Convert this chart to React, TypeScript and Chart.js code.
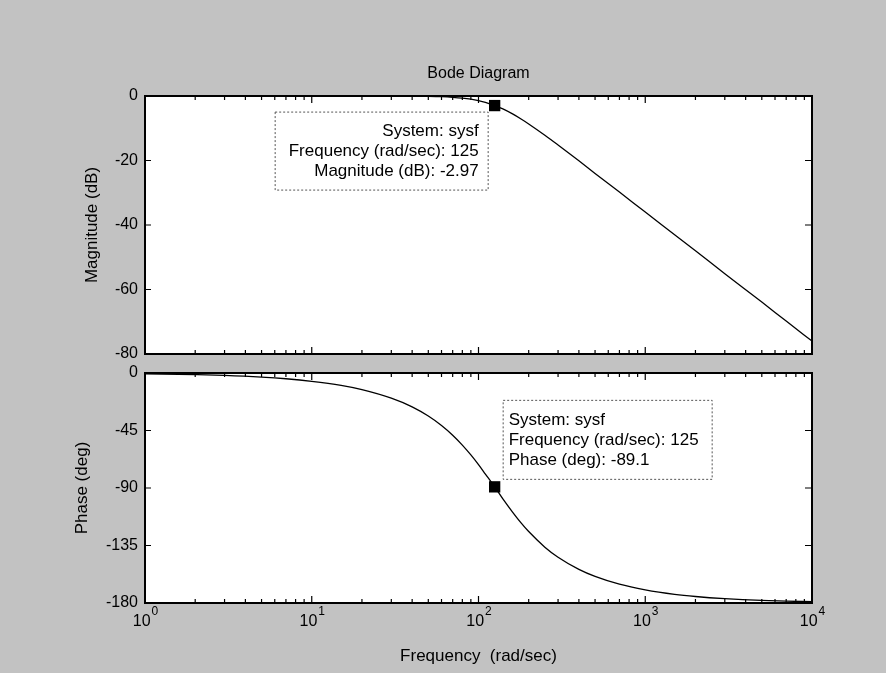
import React, { useEffect, useRef } from 'react';
import { Chart, registerables } from 'chart.js';
Chart.register(...registerables);

// ---- data ----
const frequencies = [1, 2, 3, 5, 7, 10, 15, 20, 30, 40, 50, 60, 70, 80, 90, 100, 110, 125, 140, 160, 180, 200, 250, 300, 400, 500, 700, 1000, 1500, 2000, 3000, 5000, 7000, 10000];
const magnitudeDb = [0, 0, 0, 0, 0, 0, 0, 0, -0.01, -0.04, -0.11, -0.22, -0.4, -0.65, -1.0, -1.45, -1.99, -2.97, -4.02, -5.56, -7.13, -8.66, -12.17, -15.2, -20.1, -24.0, -29.8, -36.0, -43.0, -48.0, -55.1, -63.9, -69.8, -76.0];
const phaseDeg = [-0.6, -1.3, -1.9, -3.2, -4.5, -6.5, -9.7, -13.0, -19.7, -26.5, -33.7, -41.1, -48.7, -56.4, -64.1, -71.7, -79.1, -89.1, -98.5, -108.8, -117.3, -124.1, -136.3, -144.2, -153.7, -159.2, -165.3, -169.7, -173.2, -174.9, -176.6, -178.0, -178.5, -179.0];

const markerFrequency = 125;
const markerMagnitude = -2.97;
const markerPhase = -89.1;

const magTicks = [0, -20, -40, -60, -80];
const phaseTicks = [0, -45, -90, -135, -180];
const freqDecades = [1, 10, 100, 1000, 10000];
const freqTickExponents = ['0', '1', '2', '3', '4'];

const chartTitle = 'Bode Diagram';
const xTitle = 'Frequency  (rad/sec)';
const magTitle = 'Magnitude (dB)';
const phaseTitle = 'Phase (deg)';
const magTipLines = ['System: sysf', 'Frequency (rad/sec): 125', 'Magnitude (dB): -2.97'];
const phaseTipLines = ['System: sysf', 'Frequency (rad/sec): 125', 'Phase (deg): -89.1'];

const FONT = '"Liberation Sans", Arial, sans-serif';

const bodePlugin = {
  id: 'bode',
  beforeDatasetsDraw(chart: any) {
    const { ctx, chartArea: a } = chart;
    ctx.save();
    ctx.fillStyle = '#ffffff';
    ctx.fillRect(a.left, a.top, a.right - a.left, a.bottom - a.top);
    ctx.restore();
  },
  afterDatasetsDraw(chart: any, _args: any, opts: any) {
    const { ctx, chartArea: a } = chart;
    const xs = chart.scales.x;
    const ys = chart.scales.y;
    ctx.save();
    // inward ticks
    ctx.strokeStyle = '#000';
    ctx.lineWidth = 1.2;
    ctx.beginPath();
    for (let d = 0; d < 4; d++) {
      for (let k = 1; k <= 9; k++) {
        const v = k * Math.pow(10, d);
        if (v <= 1) continue;
        const px = xs.getPixelForValue(v);
        const len = k === 1 ? 7 : 4;
        ctx.moveTo(px, a.bottom);
        ctx.lineTo(px, a.bottom - len);
        ctx.moveTo(px, a.top);
        ctx.lineTo(px, a.top + len);
      }
    }
    (opts.yTicks as number[]).forEach((v, i, arr) => {
      if (i === 0 || i === arr.length - 1) return;
      const py = ys.getPixelForValue(v);
      ctx.moveTo(a.left, py);
      ctx.lineTo(a.left + 6, py);
      ctx.moveTo(a.right, py);
      ctx.lineTo(a.right - 7, py);
    });
    ctx.stroke();
    // frame
    ctx.lineWidth = 2;
    ctx.strokeRect(a.left, a.top, a.right - a.left, a.bottom - a.top);

    // title
    if (opts.title) {
      ctx.fillStyle = '#000';
      ctx.font = `16px ${FONT}`;
      ctx.textAlign = 'center';
      ctx.textBaseline = 'middle';
      ctx.fillText(opts.title, (a.left + a.right) / 2, opts.titleY);
    }

    // x tick labels with exponents
    if (opts.xLabels) {
      ctx.fillStyle = '#000';
      ctx.textBaseline = 'alphabetic';
      ctx.textAlign = 'left';
      freqDecades.forEach((v, i) => {
        const px = xs.getPixelForValue(v);
        ctx.font = `16px ${FONT}`;
        const w1 = ctx.measureText('10').width;
        ctx.font = `12px ${FONT}`;
        const w2 = ctx.measureText(freqTickExponents[i]).width;
        const start = px - (w1 + w2) / 2;
        ctx.font = `16px ${FONT}`;
        ctx.fillText('10', start, 626);
        ctx.font = `12px ${FONT}`;
        ctx.fillText(freqTickExponents[i], start + w1 + 1, 615);
      });
    }

    // data tip
    const tip = opts.tip;
    if (tip) {
      const mx = xs.getPixelForValue(tip.x);
      const my = ys.getPixelForValue(tip.y);
      const left = mx + tip.dx;
      const top = my + tip.dy;
      ctx.fillStyle = '#fff';
      ctx.fillRect(left, top, tip.w, tip.h);
      ctx.strokeStyle = '#555';
      ctx.lineWidth = 1;
      ctx.setLineDash([2, 2]);
      ctx.strokeRect(left + 0.5, top + 0.5, tip.w, tip.h);
      ctx.setLineDash([]);
      ctx.fillStyle = '#000';
      ctx.font = `17px ${FONT}`;
      ctx.textBaseline = 'middle';
      ctx.textAlign = tip.align;
      const tx = tip.align === 'right' ? left + tip.w - 9 : left + 6;
      (tip.lines as string[]).forEach((line, i) => {
        ctx.fillText(line, tx, top + 20 + i * 20);
      });
    }
    ctx.restore();
  },
};

function makeConfig(kind: 'mag' | 'phase'): any {
  const isMag = kind === 'mag';
  const values = isMag ? magnitudeDb : phaseDeg;
  const ticks = isMag ? magTicks : phaseTicks;
  const padLeft = isMag ? 82 : 72;
  const plotLeft = 145;
  const plotRight = 812;
  const top = isMag ? 96 : 373;
  const bottom = isMag ? 354 : 603;
  return {
    type: 'line',
    data: {
      datasets: [
        {
          data: frequencies.map((f, i) => ({ x: f, y: values[i] })),
          borderColor: '#000',
          borderWidth: 1.3,
          pointRadius: 0,
          cubicInterpolationMode: 'monotone',
          fill: false,
        },
        {
          type: 'scatter',
          data: [{ x: markerFrequency, y: isMag ? markerMagnitude : markerPhase }],
          pointStyle: 'rect',
          pointRadius: 8,
          backgroundColor: '#000',
          borderColor: '#000',
          borderWidth: 0,
        },
      ],
    },
    options: {
      responsive: false,
      animation: false,
      events: [],
      layout: {
        padding: { left: padLeft, right: 886 - plotRight, top: top, bottom: isMag ? 673 - bottom : 0 },
      },
      plugins: {
        legend: { display: false },
        tooltip: { enabled: false },
        title: { display: false },
        bode: {
          yTicks: ticks,
          title: isMag ? chartTitle : null,
          titleY: 74,
          xLabels: !isMag,
          tip: isMag
            ? { x: markerFrequency, y: markerMagnitude, dx: -220, dy: 6, w: 213, h: 78, align: 'right', lines: magTipLines }
            : { x: markerFrequency, y: markerPhase, dx: 8, dy: -87, w: 209, h: 79, align: 'left', lines: phaseTipLines },
        },
      },
      scales: {
        x: {
          type: 'logarithmic',
          min: 1,
          max: 10000,
          grid: { display: false },
          border: { display: false },
          ticks: { display: false },
          title: {
            display: !isMag,
            text: xTitle,
            color: '#000',
            font: { family: FONT, size: 17 },
            padding: { top: 0, bottom: 6 },
          },
          afterFit: (s: any) => {
            s.height = isMag ? 0 : 673 - bottom;
          },
        },
        y: {
          min: ticks[ticks.length - 1],
          max: ticks[0],
          grid: { display: false, drawTicks: false },
          border: { display: false },
          afterBuildTicks: (s: any) => {
            s.ticks = ticks.map((v) => ({ value: v }));
          },
          ticks: {
            color: '#000',
            font: { family: FONT, size: 16 },
            padding: 7,
            callback: (v: any) => String(v),
          },
          title: {
            display: true,
            text: isMag ? magTitle : phaseTitle,
            color: '#000',
            font: { family: FONT, size: 17 },
            padding: 0,
          },
          afterFit: (s: any) => {
            s.width = plotLeft - padLeft;
          },
        },
      },
    },
    plugins: [bodePlugin],
  };
}

function BodeCanvas({ kind }: { kind: 'mag' | 'phase' }) {
  const ref = useRef<HTMLCanvasElement>(null);
  useEffect(() => {
    if (!ref.current) return;
    const chart = new Chart(ref.current, makeConfig(kind));
    return () => chart.destroy();
  }, [kind]);
  return (
    <canvas
      ref={ref}
      width={886}
      height={673}
      style={{ position: 'absolute', left: 0, top: 0, width: 886, height: 673 }}
    />
  );
}

export default function App() {
  return (
    <div
      style={{
        position: 'fixed',
        left: 0,
        top: 0,
        width: 886,
        height: 673,
        background: '#c2c2c2',
        overflow: 'hidden',
      }}
    >
      <BodeCanvas kind="phase" />
      <BodeCanvas kind="mag" />
    </div>
  );
}
